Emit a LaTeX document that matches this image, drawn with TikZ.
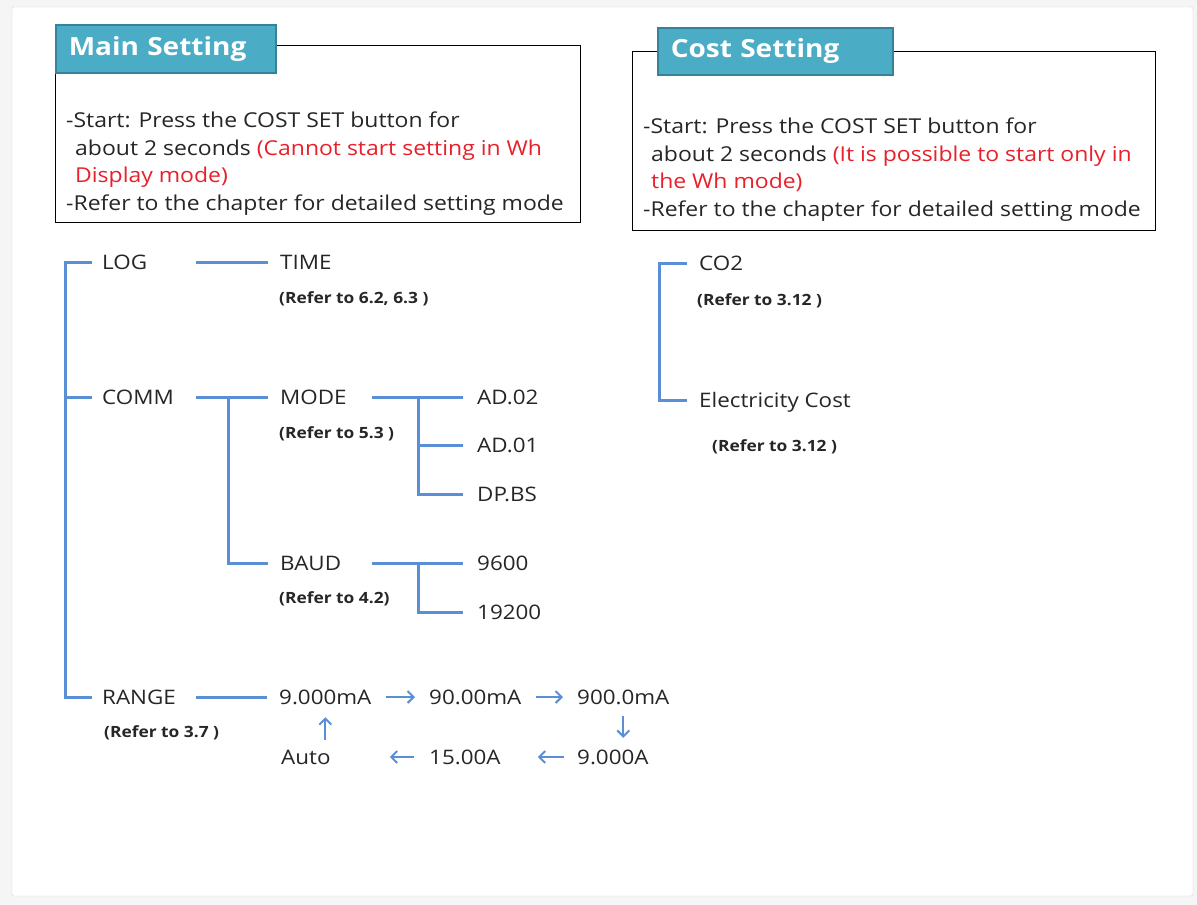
\documentclass[tikz,border=0pt]{standalone}
\usepackage{fontspec}
\setmainfont{Open Sans}[FakeStretch=1.12]
\usetikzlibrary{arrows.meta,positioning}
\definecolor{tabfill}{HTML}{4BACC6}
\definecolor{tabline}{HTML}{34839A}
\definecolor{treeblue}{HTML}{5B8FD5}
\definecolor{warnred}{HTML}{E8202A}
\definecolor{inkgray}{HTML}{262626}
\definecolor{framegray}{HTML}{D4D4D4}
\definecolor{pagegray}{HTML}{F5F5F5}
\tikzset{
x=1pt, y=-1pt,
notebox/.style={draw=black, line width=0.8pt, anchor=north west, inner sep=0pt},
tab/.style={anchor=north west, fill=tabfill, draw=tabline, line width=1.5pt,
  text=white, font=\bfseries\fontsize{25}{30}\selectfont,
  minimum height=48pt, inner xsep=13pt, align=left},
note/.style={anchor=north west, inner sep=0pt, align=left, text=inkgray,
  font=\fontsize{20.5}{27.5}\selectfont},
item/.style={anchor=west, inner ysep=0pt, text height=14pt, text depth=0pt,
  align=left, text=inkgray, font=\fontsize{20}{24}\selectfont},
col1/.style={item, inner xsep=10pt, text width=84pt},
col2/.style={item, inner xsep=12pt, text width=80pt},
col3/.style={item, inner xsep=14pt, text width=60pt},
rcol/.style={item, inner xsep=12pt},
value/.style={item, inner xsep=0pt},
ref/.style={anchor=west, inner sep=0pt, text=inkgray,
  font=\bfseries\fontsize{15.5}{18}\selectfont},
branch/.style={draw=treeblue, line width=3pt},
flow/.style={draw=treeblue, line width=2pt, -{Straight Barb[length=6pt,width=12pt]}},
}
\begin{document}
\begin{tikzpicture}
% page and frame
\useasboundingbox (0,0) rectangle (1197,905);
\fill[pagegray] (0,0) rectangle (1197,905);
\draw[framegray, fill=white, rounded corners=2pt] (12,7) rectangle (1193,896);

% Main Setting
\node[notebox, minimum width=525pt, minimum height=177pt] (mainbox) at (55,45) {};
\node[tab, text width=194pt] (maintab) at (55,24) {Main Setting};
\node[note] (maintext) at (66,112) {-Start: Press the COST SET button for\\
  \hspace*{9pt}about 2 seconds \textcolor{warnred}{(Cannot start setting in Wh}\\
  \hspace*{9pt}\textcolor{warnred}{Display mode)}\\
  -Refer to the chapter for detailed setting mode};

% Cost Setting
\node[notebox, minimum width=523pt, minimum height=179pt] (costbox) at (632,51) {};
\node[tab, text width=209pt, minimum height=47pt] (costtab) at (657,27) {Cost Setting};
\node[note] (costtext) at (643,118) {-Start: Press the COST SET button for\\
  \hspace*{8pt}about 2 seconds \textcolor{warnred}{(It is possible to start only in}\\
  \hspace*{8pt}\textcolor{warnred}{the Wh mode)}\\
  -Refer to the chapter for detailed setting mode};

% main tree
\node[col1] (log) at (92,262) {LOG};
\node[col2] (time) at (268,262) {TIME};
\node[ref] (timeref) at (279,299) {(Refer to 6.2, 6.3 )};
\node[col1] (comm) at (92,397) {COMM};
\node[col2] (mode) at (268,397) {MODE};
\node[ref] (moderef) at (279,434) {(Refer to 5.3 )};
\node[col3] (ad02) at (463,397) {AD.02};
\node[col3] (ad01) at (463,445) {AD.01};
\node[col3] (dpbs) at (463,494) {DP.BS};
\node[col2] (baud) at (268,563) {BAUD};
\node[ref] (baudref) at (279,599) {(Refer to 4.2)};
\node[col3] (b9600) at (463,563) {9600};
\node[col3] (b19200) at (463,612) {19200};
\node[col1] (range) at (92,697) {RANGE};
\node[ref] (rangeref) at (104,733) {(Refer to 3.7 )};

\draw[branch] (log.west) -- ++(-27,0) |- (range.west);
\draw[branch] (comm.west) -- ++(-27,0);
\draw[branch] (log) -- (time);
\draw[branch] (comm) -- (mode);
\coordinate (commfork) at (228,397);
\draw[branch] (commfork) |- (baud);
\draw[branch] (mode) -- (ad02);
\coordinate (modefork) at (418,397);
\draw[branch] (modefork) |- (ad01);
\draw[branch] (modefork) |- (dpbs);
\draw[branch] (baud) -- (b9600);
\coordinate (baudfork) at (418,563);
\draw[branch] (baudfork) |- (b19200);

% range cycle
\node[value] (ma9) at (279,697) {9.000mA};
\node[value] (ma90) at (429,697) {90.00mA};
\node[value] (ma900) at (577,697) {900.0mA};
\node[value] (a9) at (577,757) {9.000A};
\node[value] (a15) at (429,757) {15.00A};
\node[value] (auto) at (281,757) {Auto};

\draw[branch, shorten >=12pt] (range) -- (ma9);
\draw[flow, shorten <=14pt, shorten >=14pt] (ma9) -- (ma90);
\draw[flow, shorten <=14pt, shorten >=14pt] (ma90) -- (ma900);
\draw[flow, shorten <=12pt, shorten >=12pt] (ma900.south) -- (ma900.south |- a9.north);
\draw[flow, shorten <=13pt, shorten >=37pt] (a9) -- (a15);
\draw[flow, shorten <=15pt, shorten >=59pt] (a15) -- (auto);
\draw[flow, shorten <=10pt, shorten >=13pt] (ma9.south |- auto.north) -- (ma9.south);

% cost tree
\node[rcol] (co2) at (687,263) {CO2};
\node[ref] (co2ref) at (697,301) {(Refer to 3.12 )};
\node[rcol] (cost) at (687,400) {Electricity Cost};
\node[ref] (costref) at (712,447) {(Refer to 3.12 )};
\draw[branch] (co2.west) -- ++(-28,0) |- (cost.west);
\end{tikzpicture}
\end{document}
